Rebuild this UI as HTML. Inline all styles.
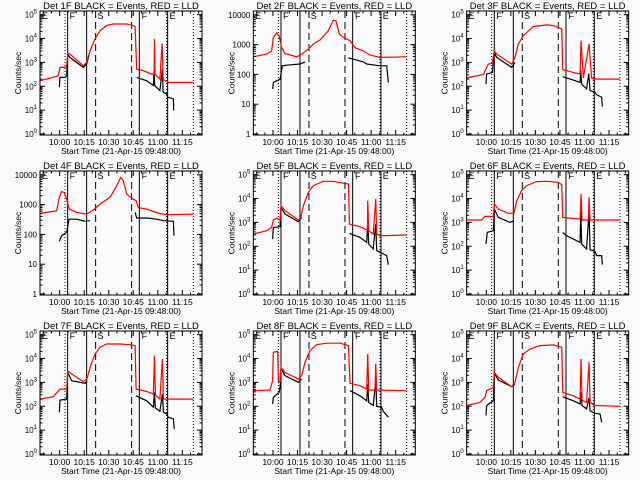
<!DOCTYPE html>
<html><head><meta charset="utf-8"><style>
html,body{margin:0;padding:0;background:#fafafa;}
svg{display:block;font-family:"Liberation Sans",sans-serif;}
</style></head><body>
<svg id="chart" width="640" height="480" viewBox="0 0 640 480"></svg>
<script>
// Data: time in minutes after 09:48:00, values in log10(counts/sec). null separates segments.
const detectorNames = ["1F","2F","3F","4F","5F","6F","7F","8F","9F"];
const decadeCounts = [5,4,5,4,5,5,5,5,5];
const xTickLabels = ["10:00","10:15","10:30","10:45","11:00","11:15"];
const xTickMinutes = [12,27,42,57,72,87];
const markerMinutes = [15.3,16.9,28.5,34,56,60.7,77.4,78,93.7];
const markerStyles = ["dot","solid","solid","dash","dash","solid","dot","solid","dot"];
const markerLetters = ["E","F","S","F","E"];
const markerLetterMinutes = [0.5,17.5,34.5,61.5,78.5];

const red1 = [[0,2.23],[11.2,2.44],[12.2,2.79],[15.3,2.79],[16.3,2.86],[16.9,3.38],[18.3,3.35],[26.5,2.86],[28.5,3.0],[30.6,3.49],[33.6,3.98],[36.7,4.33],[40.7,4.54],[44.8,4.61],[53,4.61],[57,4.54],[58.1,4.5],[59.1,2.72],[63.2,2.65],[68.2,2.51],[69.7,2.51],[70,3.98],[70.3,2.51],[73.3,2.30],[74.6,3.8],[75.2,2.30],[76.4,2.23],[77.4,2.23],[78.4,2.16],[93.7,2.16]];
const black1 = [[11.8,1.96],[12.2,2.37],[15.3,2.37],[16.3,2.44],[16.9,3.35],[18.3,3.21],[26.5,2.79],[28.5,2.93],[30,3.3],null,[59.1,2.37],[65.2,2.23],[69.3,2.03],[69.7,2.72],[70.1,2.03],[73.3,1.82],[74.8,2.72],[75.2,1.75],[77.4,1.68],[78,1.54],[81.5,1.47],[81.7,0.98]];
const red2 = [[0,2.59],[8.1,2.68],[11.2,2.79],[12.2,3.24],[14.3,3.39],[15.7,3.30],[17.3,2.9],[19.4,2.70],[26.5,2.59],[29.5,2.68],[33.6,2.85],[36.7,3.02],[40.7,3.15],[45.8,3.46],[48.9,3.82],[50.5,3.80],[52.6,3.35],[55,3.24],[59.1,3.13],[62.1,2.9],[67.2,2.79],[71.3,2.65],[77.4,2.57],[93.7,2.59]];
const black2 = [[11.8,1.51],[12.2,1.73],[16.3,1.84],[17.7,2.29],[20.4,2.31],[28.5,2.35],[31.6,2.42],null,[58.1,2.55],[63.2,2.48],[67.2,2.42],[69.3,2.35],[77.4,2.29],[81.5,2.29],[82.5,1.73]];
const red3 = [[0,2.35],[10.2,2.49],[11.8,2.72],[13.2,2.93],[15.7,2.96],[16.9,3.49],[18.3,3.35],[27.5,2.93],[29.5,3.21],[31.6,3.77],[34.6,4.12],[40.7,4.5],[48.9,4.57],[53,4.54],[58.1,4.4],[58.7,2.70],[65.2,2.58],[69.3,2.51],[69.9,3.91],[71.3,2.35],[74.8,3.77],[76.4,2.33],[79.4,2.30],[93.7,2.30]];
const black3 = [[11.8,2.09],[12.2,2.51],[15.7,2.58],[16.9,3.42],[18.3,3.21],[27.5,2.79],[29.5,3.0],null,[58.7,2.40],[65.2,2.26],[69.3,2.16],[69.7,2.65],[70.3,2.09],[73.3,1.89],[74.6,2.54],[75.4,1.82],[78.4,1.75],[79.4,1.65],[82.5,1.54],[82.9,1.15]];
const red4 = [[0,2.70],[10.2,2.79],[11.8,3.24],[13.2,3.44],[14.9,3.40],[16.3,3.18],[17.9,2.85],[22.4,2.74],[28.5,2.68],[32.6,2.82],[36.7,3.02],[42.8,3.24],[46.9,3.63],[49.3,3.91],[50.9,3.80],[53,3.35],[57,3.18],[58.7,3.13],[60.1,2.9],[65.2,2.85],[69.3,2.77],[73.3,2.70],[77.4,2.66],[93.7,2.68]];
const black4 = [[11.8,1.77],[13.2,1.96],[16.3,2.07],[17.7,2.51],[22.4,2.51],[27.5,2.44],[30.6,2.46],null,[58.1,2.74],[59.1,2.55],[65.2,2.55],[71.3,2.51],[75.4,2.46],[81.5,2.44],[81.9,1.96]];
const red5 = [[0,2.51],[8.1,2.65],[11.2,2.79],[12.2,3.10],[14.3,3.18],[16.3,3.10],[16.9,3.70],[19.4,3.49],[27.5,3.10],[28.9,3.18],[30.6,3.7],[33.6,4.26],[36.7,4.54],[42.8,4.72],[48.9,4.72],[55,4.64],[58.1,4.61],[58.7,2.93],[65.2,2.82],[68.2,2.72],[69.7,2.68],[69.9,3.91],[70.5,2.65],[73.3,2.51],[74.8,3.98],[75.4,2.51],[77.4,2.44],[93.7,2.47]];
const black5 = [[11.8,2.30],[12.2,2.79],[16.3,2.82],[16.9,3.63],[19.4,3.35],[27.5,3.03],[29.5,3.21],null,[58.7,2.54],[65.2,2.37],[69.3,2.16],[69.9,3.0],[70.5,2.09],[73.3,1.89],[74.8,2.93],[75.4,1.82],[77.4,1.75],[79.4,1.68],[81.5,1.61],[82.5,1.23]];
const red6 = [[0,3.10],[9.2,3.10],[11.2,3.25],[16.3,3.25],[16.9,3.77],[19.4,3.56],[25.5,3.38],[28.9,3.38],[30.6,3.91],[33.6,4.33],[36.7,4.54],[42.8,4.71],[48.9,4.72],[56,4.68],[58.1,4.58],[58.7,3.21],[63.2,3.18],[69.3,3.14],[69.9,4.19],[70.5,3.10],[74.4,3.10],[74.8,4.05],[75.4,3.10],[93.7,3.10]];
const black6 = [[11.8,2.09],[12.6,2.58],[16.3,2.65],[16.9,3.56],[19.4,3.21],[26.5,3.0],[28.9,3.07],null,[58.7,2.58],[61.1,2.44],[65.2,2.30],[69.3,2.16],[69.7,3.49],[70.3,2.09],[73.3,1.89],[74.8,3.46],[75.4,1.85],[78.4,1.79],[79.4,1.61],[82.5,1.61],[82.9,1.23]];
const red7 = [[0,2.30],[8.1,2.40],[12.2,2.72],[16.3,2.72],[16.9,3.49],[19.4,3.35],[26.5,3.03],[28.9,3.18],[30.9,3.70],[33.6,4.19],[36.7,4.47],[40.7,4.61],[48.9,4.61],[55,4.58],[58.1,4.54],[58.7,2.72],[65.2,2.62],[69.3,2.51],[69.9,4.12],[70.5,2.48],[73.3,2.30],[74.8,3.98],[75.4,2.30],[93.7,2.30]];
const black7 = [[11.8,1.75],[12.2,2.26],[16.3,2.30],[16.9,3.42],[19.4,3.07],[27.5,2.96],[28.9,3.07],null,[58.7,2.44],[65.2,2.23],[69.3,1.96],[69.9,2.58],[70.5,1.93],[73.3,1.79],[74.8,2.51],[75.4,1.75],[77.4,1.68],[78.4,1.54],[81.5,1.47],[82.1,1.05]];
const red8 = [[0,2.65],[10.2,2.68],[11.8,3.07],[12.2,4.26],[14.9,4.30],[15.3,3.04],[16.3,3.04],[16.9,3.63],[19.4,3.42],[27.5,3.14],[29.5,3.28],[31.6,3.84],[34.6,4.33],[38.7,4.58],[44.8,4.64],[53,4.64],[58.1,4.54],[59.1,2.96],[65.2,2.86],[69.3,2.72],[69.9,4.19],[70.5,2.68],[74.4,2.68],[74.8,3.77],[75.4,2.68],[93.7,2.65]];
const black8 = [[11.8,2.09],[12.2,2.37],[15.7,2.58],[16.3,2.79],[16.9,3.59],[19.4,3.28],[27.5,3.0],[29.5,3.14],null,[59.1,2.65],[65.2,2.44],[69.3,2.23],[69.9,2.93],[70.5,2.16],[73.3,2.03],[74.8,3.10],[75.4,1.99],[78.4,1.96],[79.4,1.79],[82.5,1.54]];
const red9 = [[0,2.03],[8.1,2.16],[11.2,2.37],[12.2,2.65],[14.3,2.72],[16.3,2.79],[16.9,3.42],[19.4,3.21],[27.5,2.82],[29.5,3.0],[31.6,3.63],[34.6,4.19],[38.7,4.40],[44.8,4.54],[53,4.57],[58.1,4.47],[58.7,2.58],[65.2,2.44],[69.3,2.30],[69.9,3.98],[70.5,2.26],[73.3,2.16],[74.8,3.84],[75.4,2.16],[78.4,2.03],[93.7,2.0]];
const black9 = [[11.8,1.61],[12.2,2.03],[16.3,2.23],[16.9,3.38],[19.4,3.10],[27.5,2.82],[29.5,2.93],null,[58.7,2.40],[65.2,2.23],[69.3,2.09],[69.9,2.58],[70.5,2.03],[73.3,1.89],[74.8,2.35],[75.4,1.82],[78.4,1.70],[81.5,1.68],[82.5,1.33]];

const redSeries = [red1,red2,red3,red4,red5,red6,red7,red8,red9];
const blackSeries = [black1,black2,black3,black4,black5,black6,black7,black8,black9];

const NS = "http://www.w3.org/2000/svg";
const svg = document.getElementById("chart");
function mk(tag, attrs, parent){ const e=document.createElementNS(NS,tag); for(const k in attrs) e.setAttribute(k,attrs[k]); parent.appendChild(e); return e; }

const BX0=40, BX1=202, BY0=11, BY1=135, TMAX=99;
for(let p=0;p<9;p++){
  const col=p%3, row=Math.floor(p/3);
  const g=mk("g",{transform:`translate(${(col*213.33).toFixed(2)},${row*160})`},svg);
  
  
  const nd=decadeCounts[p];
  const pxPerDec = nd===5 ? 23.87 : 29.8;
  const x = m => BX0 + m*(BX1-BX0)/TMAX;
  const y = v => 134 - v*pxPerDec;
  // markers
  markerMinutes.forEach((m,i)=>{
    const st=markerStyles[i];
    const l=mk("line",{x1:x(m),x2:x(m),y1:BY0,y2:BY1,stroke:"#000","stroke-width":1},g);
    if(st==="dot") l.setAttribute("stroke-dasharray","1,2");
    if(st==="dash") l.setAttribute("stroke-dasharray","7,4");
    
    
  });
  markerLetters.forEach((s,i)=>{
    const t=mk("text",{x:x(markerLetterMinutes[i])+1,y:19,"font-size":9},g);
    t.textContent=s;
    
    
  });
  // series
  function drawSeries(data,color,name){
    let d="", start=true;
    data.forEach(pt=>{ if(pt===null){start=true;return;} d+=(start?"M":"L")+x(pt[0]).toFixed(1)+","+y(pt[1]).toFixed(1); start=false; });
    const path=mk("path",{d:d,fill:"none",stroke:color,"stroke-width":1.2},g);
    
    
  }
  drawSeries(blackSeries[p],"#000","events-series");
  drawSeries(redSeries[p],"#ff0000","lld-series");
  // box
  const box=mk("rect",{x:BX0,y:BY0,width:BX1-BX0,height:BY1-BY0,fill:"none",stroke:"#000","stroke-width":1},g);
  
  
  // y ticks
  for(let d=0; d<=nd; d++){
    const yy=y(d);
    mk("line",{x1:BX0,x2:BX0+5,y1:yy,y2:yy,stroke:"#000"},g);
    mk("line",{x1:BX1,x2:BX1-5,y1:yy,y2:yy,stroke:"#000"},g);
    for(let k=2;k<=9;k++){
      const ym=y(d+Math.log10(k));
      if(ym<BY0) break;
      mk("line",{x1:BX0,x2:BX0+2.5,y1:ym,y2:ym,stroke:"#000"},g);
      mk("line",{x1:BX1,x2:BX1-2.5,y1:ym,y2:ym,stroke:"#000"},g);
    }
    const t=mk("text",{x:BX0-3,y:yy+3,"font-size":8,"text-anchor":"end"},g);
    if(nd===5){ t.innerHTML='10<tspan dy="-4" font-size="6">'+d+'</tspan>'; }
    else { t.textContent=String(Math.pow(10,d)); }
    
    
  }
  // x ticks
  for(let m=2;m<TMAX;m+=5){
    const major = xTickMinutes.indexOf(m)>=0;
    const len = major?5:2.5;
    mk("line",{x1:x(m),x2:x(m),y1:BY1,y2:BY1-len,stroke:"#000"},g);
    mk("line",{x1:x(m),x2:x(m),y1:BY0,y2:BY0+len,stroke:"#000"},g);
  }
  xTickLabels.forEach((s,i)=>{
    const t=mk("text",{x:x(xTickMinutes[i]),y:145,"font-size":8.5,"text-anchor":"middle"},g);
    t.textContent=s;
    
    
  });
  const xt=mk("text",{x:121,y:154,"font-size":8.5,"text-anchor":"middle"},g);
  xt.textContent="Start Time (21-Apr-15 09:48:00)";
  
  
  const yt=mk("text",{x:0,y:0,"font-size":8.5,"text-anchor":"middle",transform:"translate(21,73) rotate(-90)"},g);
  yt.textContent="Counts/sec";
  
  
  const tt=mk("text",{x:121,y:9,"font-size":9.5,"text-anchor":"middle"},g);
  tt.textContent="Det "+detectorNames[p]+" BLACK = Events, RED = LLD";
  
  
}
</script>
</body></html>
